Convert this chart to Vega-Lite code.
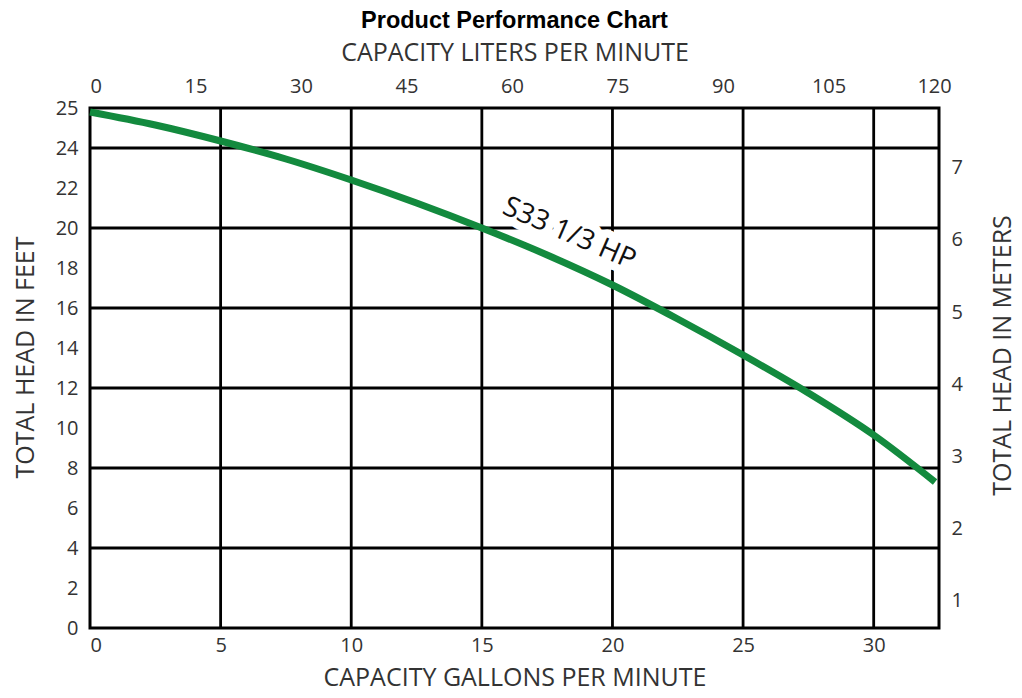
{
  "$schema": "https://vega.github.io/schema/vega-lite/v6.json",
  "autosize": {"type": "none"},
  "padding": {"left": 90, "top": 108, "right": 83, "bottom": 70},
  "width": 849,
  "height": 520,
  "background": "white",
  "title": {
    "text": "Product Performance Chart",
    "font": "Liberation Sans",
    "fontSize": 23.5,
    "fontWeight": "bold",
    "color": "black",
    "anchor": "middle",
    "offset": 8
  },
  "config": {
    "view": {"stroke": "black", "strokeWidth": 3},
    "axis": {
      "labelFont": "Open Sans",
      "labelFontSize": 20,
      "labelColor": "#333",
      "labelOverlap": false,
      "titleFont": "Open Sans",
      "titleFontSize": 25,
      "titleFontWeight": "normal",
      "titleColor": "#333",
      "ticks": false,
      "domain": false,
      "grid": false
    }
  },
  "datasets": {
    "curve": [
      {"gallons": 0, "feet": 25.8},
      {"gallons": 2.5, "feet": 25.15},
      {"gallons": 5, "feet": 24.35},
      {"gallons": 7.5, "feet": 23.45},
      {"gallons": 10, "feet": 22.4},
      {"gallons": 12.5, "feet": 21.25},
      {"gallons": 15, "feet": 20.0},
      {"gallons": 17.5, "feet": 18.65},
      {"gallons": 20, "feet": 17.15},
      {"gallons": 22.5, "feet": 15.45},
      {"gallons": 25, "feet": 13.65},
      {"gallons": 27.5, "feet": 11.75},
      {"gallons": 30, "feet": 9.65},
      {"gallons": 32.35, "feet": 7.3}
    ],
    "vgrid": [
      {"gallons": 5}, {"gallons": 10}, {"gallons": 15},
      {"gallons": 20}, {"gallons": 25}, {"gallons": 30}
    ],
    "hgrid": [
      {"feet": 4}, {"feet": 8}, {"feet": 12},
      {"feet": 16}, {"feet": 20}, {"feet": 24}
    ],
    "label": [
      {"gallons": 18.34, "feet": 19.7, "label": "S33 1/3 HP"}
    ],
    "secondary": [
      {"liters": 0, "meters": 1},
      {"liters": 120, "meters": 7}
    ]
  },
  "layer": [
    {
      "layer": [
        {
          "data": {"name": "vgrid"},
          "mark": {"type": "rule", "color": "black", "strokeWidth": 2.8},
          "encoding": {
            "x": {
              "field": "gallons",
              "type": "quantitative",
              "scale": {"domain": [0, 32.5], "nice": false},
              "axis": {
                "orient": "bottom",
                "values": [0, 5, 10, 15, 20, 25, 30],
                "title": "CAPACITY GALLONS PER MINUTE",
                "labelOverlap": false,
                "labelPadding": 7,
                "titlePadding": 10
              }
            }
          }
        },
        {
          "data": {"name": "hgrid"},
          "mark": {"type": "rule", "color": "black", "strokeWidth": 2.8},
          "encoding": {
            "y": {
              "field": "feet",
              "type": "quantitative",
              "scale": {"domain": [0, 26], "nice": false},
              "axis": {
                "orient": "left",
                "values": [0, 2, 4, 6, 8, 10, 12, 14, 16, 18, 20, 22, 24, 26],
                "labelExpr": "datum.value == 26 ? '25' : datum.label",
                "labelOverlap": false,
                "title": "TOTAL HEAD IN FEET",
                "titleY": 249,
                "labelPadding": 12,
                "titlePadding": 17
              }
            }
          }
        },
        {
          "data": {"name": "label"},
          "mark": {
            "type": "text",
            "angle": 23.5,
            "font": "Open Sans",
            "fontSize": 28,
            "stroke": "white",
            "strokeWidth": 16,
            "strokeJoin": "round",
            "fill": "white"
          },
          "encoding": {
            "x": {
              "field": "gallons",
              "type": "quantitative",
              "axis": {
                "orient": "bottom",
                "values": [0, 5, 10, 15, 20, 25, 30],
                "title": "CAPACITY GALLONS PER MINUTE",
                "labelOverlap": false,
                "labelPadding": 7,
                "titlePadding": 10
              }
            },
            "y": {
              "field": "feet",
              "type": "quantitative",
              "axis": {
                "orient": "left",
                "values": [0, 2, 4, 6, 8, 10, 12, 14, 16, 18, 20, 22, 24, 26],
                "labelExpr": "datum.value == 26 ? '25' : datum.label",
                "labelOverlap": false,
                "title": "TOTAL HEAD IN FEET",
                "titleY": 249,
                "labelPadding": 12,
                "titlePadding": 17
              }
            },
            "text": {"field": "label"}
          }
        },
        {
          "data": {"name": "curve"},
          "mark": {"type": "line", "color": "#138a3e", "strokeWidth": 7, "interpolate": "monotone", "strokeCap": "butt"},
          "encoding": {
            "x": {
              "field": "gallons",
              "type": "quantitative",
              "axis": {
                "orient": "bottom",
                "values": [0, 5, 10, 15, 20, 25, 30],
                "title": "CAPACITY GALLONS PER MINUTE",
                "labelOverlap": false,
                "labelPadding": 7,
                "titlePadding": 10
              }
            },
            "y": {
              "field": "feet",
              "type": "quantitative",
              "axis": {
                "orient": "left",
                "values": [0, 2, 4, 6, 8, 10, 12, 14, 16, 18, 20, 22, 24, 26],
                "labelExpr": "datum.value == 26 ? '25' : datum.label",
                "labelOverlap": false,
                "title": "TOTAL HEAD IN FEET",
                "titleY": 249,
                "labelPadding": 12,
                "titlePadding": 17
              }
            }
          }
        },
        {
          "data": {"name": "label"},
          "mark": {
            "type": "text",
            "angle": 23.5,
            "font": "Open Sans",
            "fontSize": 28,
            "fill": "#111"
          },
          "encoding": {
            "x": {
              "field": "gallons",
              "type": "quantitative",
              "axis": {
                "orient": "bottom",
                "values": [0, 5, 10, 15, 20, 25, 30],
                "title": "CAPACITY GALLONS PER MINUTE",
                "labelOverlap": false,
                "labelPadding": 7,
                "titlePadding": 10
              }
            },
            "y": {
              "field": "feet",
              "type": "quantitative",
              "axis": {
                "orient": "left",
                "values": [0, 2, 4, 6, 8, 10, 12, 14, 16, 18, 20, 22, 24, 26],
                "labelExpr": "datum.value == 26 ? '25' : datum.label",
                "labelOverlap": false,
                "title": "TOTAL HEAD IN FEET",
                "titleY": 249,
                "labelPadding": 12,
                "titlePadding": 17
              }
            },
            "text": {"field": "label"}
          }
        }
      ]
    },
    {
      "data": {"name": "secondary"},
      "mark": {"type": "point", "opacity": 0},
      "encoding": {
        "x": {
          "field": "liters",
          "type": "quantitative",
          "scale": {"domain": [0, 120.7], "nice": false},
          "axis": {
            "orient": "top",
            "values": [0, 15, 30, 45, 60, 75, 90, 105, 120],
            "title": "CAPACITY LITERS PER MINUTE",
            "labelOverlap": false,
            "labelPadding": 12,
            "titlePadding": 11
          }
        },
        "y": {
          "field": "meters",
          "type": "quantitative",
          "scale": {"domain": [0.62, 7.83], "nice": false, "zero": false},
          "axis": {
            "orient": "right",
            "values": [1, 2, 3, 4, 5, 6, 7],
            "title": "TOTAL HEAD IN METERS",
            "titleAngle": 270,
            "titleY": 247,
            "labelOverlap": false,
            "labelPadding": 12,
            "titlePadding": 53
          }
        }
      }
    }
  ],
  "resolve": {
    "scale": {"x": "independent", "y": "independent"},
    "axis": {"x": "independent", "y": "independent"}
  }
}
